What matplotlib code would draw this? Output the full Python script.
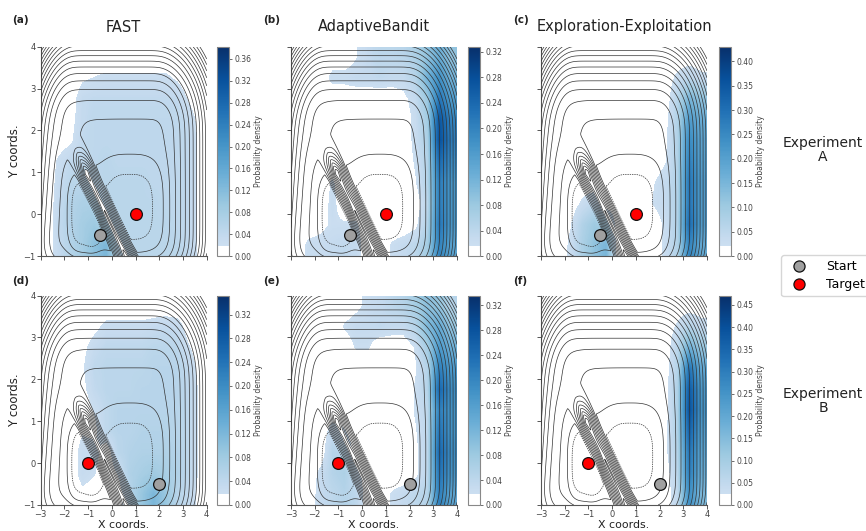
import numpy as np
import matplotlib
matplotlib.use("Agg")
import matplotlib.pyplot as plt
from matplotlib.colors import ListedColormap
from matplotlib.lines import Line2D

# ---------------- data ----------------
methods = ["FAST", "AdaptiveBandit", "Exploration-Exploitation"]
experiment_labels = ["Experiment\nA", "Experiment\nB"]
panel_tags = [["(a)", "(b)", "(c)"], ["(d)", "(e)", "(f)"]]
start_xy = [(-0.5, -0.5), (2.0, -0.5)]
target_xy = [(1.0, 0.0), (-1.0, 0.0)]
cbar_max = [[0.382, 0.328, 0.430], [0.352, 0.336, 0.471]]
cbar_step = [[0.04, 0.04, 0.05], [0.04, 0.04, 0.05]]
x_ticks = [-3, -2, -1, 0, 1, 2, 3, 4]
y_ticks = [-1, 0, 1, 2, 3, 4]

# density grid cell centres (rows listed from top y=3.75 to bottom y=-0.75)
density_x = [-2.75, -2.25, -1.75, -1.25, -0.75, -0.25, 0.25, 0.75, 1.25, 1.75, 2.25, 2.75, 3.25, 3.75]
density_y = [3.75, 3.25, 2.75, 2.25, 1.75, 1.25, 0.75, 0.25, -0.25, -0.75]

# probability density (x 0.01)
density_fast_A = [
    [0, 0, 0, 0, 0, 0, 0, 0, 0, 0, 0, 0, 0, 0],
    [0, 0, 0, 1.5, 2, 2.5, 2.5, 2.5, 2.5, 2.5, 2.5, 1.5, 0, 0],
    [0, 0, 0.5, 3.5, 4, 4, 4, 4, 4, 4, 4, 4, 1.5, 0],
    [0, 0.5, 1, 3.5, 4.5, 4.5, 4.5, 4.5, 4.5, 4.5, 4.5, 4.5, 3.5, 0.5],
    [0, 0.5, 1.5, 4, 4.5, 4.5, 4.5, 4.5, 4.5, 4.5, 4.5, 4.5, 4, 1],
    [0, 2.5, 4, 4.5, 4.5, 5, 4.5, 4.5, 4.5, 4.5, 4.5, 4.5, 4, 1],
    [0, 3, 5, 5, 5, 5, 5, 5, 5, 4.5, 4.5, 4.5, 4, 1],
    [0, 3.5, 6, 7, 7, 5, 5, 5, 5, 5, 4.5, 4.5, 4, 1],
    [0, 4, 6, 8, 9, 7, 5, 5, 5, 5, 5, 4.5, 4, 1],
    [0, 3.5, 6, 8, 11, 13, 5, 5, 5, 5, 5, 5, 4, 1],
]
density_bandit_A = [
    [0, 0, 0, 0, 0, 1.5, 3, 4, 4, 4.5, 6, 9, 13, 9],
    [0, 0, 0, 2.5, 2.5, 3, 3, 3.5, 3, 3, 5, 12, 18, 12],
    [0, 0, 0, 0, 0, 0, 0, 0, 0, 1, 3, 8, 22, 16],
    [0, 0, 0, 0, 0, 0, 0, 0, 0, 0, 2.5, 7, 27, 20],
    [0, 0, 0, 0, 0, 0, 0, 0, 0, 0, 2.5, 6, 28, 21],
    [0, 0, 0, 0, 0, 0, 0, 0, 0, 0, 2, 5, 24, 19],
    [0, 0, 0, 2, 0, 0, 0, 0, 0, 0, 1.5, 5, 21, 17],
    [0, 0, 0, 2.5, 0, 0, 0, 0, 0, 0, 0, 4, 21, 17],
    [0, 0, 1, 2, 2, 2, 0, 0, 0, 0, 1, 5, 22, 17],
    [0, 2.5, 2.5, 3, 3.5, 3, 0, 0, 2, 3, 4, 7, 20, 15],
]
density_explo_A = [
    [0, 0, 0, 0, 0, 0, 0, 0, 0, 0, 0, 0, 0, 0],
    [0, 0, 0, 0, 0, 0, 0, 0, 0, 0, 0, 3, 5, 3],
    [0, 0, 0, 0, 0, 0, 0, 0, 0, 0, 0, 6, 15, 12],
    [0, 0, 0, 0, 0, 0, 0, 0, 0, 0, 1, 7, 21, 17],
    [0, 0, 0, 0, 0, 0, 0, 0, 0, 0, 1.5, 7, 25, 19],
    [0, 0, 0, 0, 0, 0, 0, 0, 0, 0, 2, 7, 27, 20],
    [0, 0, 0, 0, 0, 0, 0, 0, 0, 2, 4, 7, 29, 21],
    [0, 0, 0, 3, 5, 0, 0, 0, 0, 2.5, 4, 7, 29, 21],
    [0, 0, 2, 7, 10, 9, 0, 0, 0, 0, 3, 7, 31, 21],
    [0, 0, 3, 8, 12, 15, 0, 0, 0, 0, 3, 7, 26, 18],
]
density_fast_B = [
    [0, 0, 0, 0, 0, 0, 0, 0, 0, 0, 0, 0, 0, 0],
    [0, 0, 0, 0, 1, 2.5, 2.5, 2.5, 2.5, 3, 3.5, 3, 0.5, 0],
    [0, 0, 0, 1, 3, 4, 4, 4, 4, 4.5, 4.5, 4.5, 2, 0],
    [0, 0, 0, 1.5, 4, 4.5, 4.5, 4.5, 4.5, 5, 5, 5, 3.5, 0.5],
    [0, 0, 0, 1, 3.5, 4.5, 4.5, 4.5, 5, 5, 5, 5, 4, 1],
    [0, 0, 0, 0, 2, 4, 5, 5, 5, 5, 5, 5, 4, 1],
    [0, 0, 0, 1.5, 1, 4, 5, 5, 5.5, 5.5, 5.5, 5, 4, 1],
    [0, 0, 0, 3, 3, 0, 4.5, 5.5, 6, 6, 6, 5.5, 4, 1],
    [0, 0, 0, 3, 2, 0, 2, 6, 7, 8, 7, 6, 4, 1],
    [0, 0, 0, 1, 0.5, 0, 0, 5, 9, 12, 9, 5, 3.5, 0.5],
]
density_bandit_B = [
    [0, 0, 0, 0, 0, 1, 2.5, 3, 4, 5, 7, 10, 9, 5],
    [0, 0, 0, 0, 2, 3, 3, 3.5, 3, 3, 5, 11, 14, 9],
    [0, 0, 0, 0, 0, 2, 2, 0, 0, 0, 2, 7, 17, 13],
    [0, 0, 0, 0, 0, 0, 0, 0, 0, 0, 1.5, 5, 21, 17],
    [0, 0, 0, 0, 0, 0, 0, 0, 0, 0, 2, 5, 25, 19],
    [0, 0, 0, 0, 0, 0, 0, 0, 0, 0, 2, 4, 21, 18],
    [0, 0, 0, 3, 2, 0, 0, 0, 0, 0, 1.5, 4, 23, 18],
    [0, 0, 0, 5, 5, 0, 0, 0, 0, 0, 1, 4, 25, 19],
    [0, 0, 2.5, 5, 6, 3, 0, 0, 0, 0, 1, 4, 23, 18],
    [0, 0, 3, 4, 5, 4, 0, 0, 2, 3, 4, 5, 21, 15],
]
density_explo_B = [
    [0, 0, 0, 0, 0, 0, 0, 0, 0, 0, 0, 0, 0, 0],
    [0, 0, 0, 0, 0, 0, 0, 0, 0, 0, 0, 3, 7, 4],
    [0, 0, 0, 0, 0, 0, 0, 0, 0, 0, 0, 6, 18, 12],
    [0, 0, 0, 0, 0, 0, 0, 0, 0, 0, 0.5, 7, 32, 20],
    [0, 0, 0, 0, 0, 0, 0, 0, 0, 0, 1, 8, 38, 24],
    [0, 0, 0, 0, 0, 0, 0, 0, 0, 0, 1, 8, 40, 25],
    [0, 0, 0, 0, 0, 0, 0, 0, 0, 0, 1.5, 8, 36, 23],
    [0, 0, 0, 0, 0, 0, 0, 0, 0, 0, 1.5, 7, 32, 21],
    [0, 0, 0, 0, 0, 0, 0, 0, 0, 0, 0.5, 6, 30, 19],
    [0, 0, 0, 0, 0, 0, 0, 0, 0, 0, 0, 5, 26, 16],
]
densities = [[density_fast_A, density_bandit_A, density_explo_A],
             [density_fast_B, density_bandit_B, density_explo_B]]


# ---------------- toy potential surface (drawn as contours) ----------------
def softplus(t, s=0.18):
    return s * np.logaddexp(0.0, t / s)


def squircle_well(x, y, cx, cy, ax_, ay_, s, depth, q=3.0):
    r = ((np.abs(x - cx) / ax_) ** q + (np.abs(y - cy) / ay_) ** q) ** (1.0 / q)
    return -depth / (1.0 + np.exp((r - 1.0) / s))


def potential(x, y):
    left_edge = -1.98 + 0.12 * y
    walls = (2.06 * softplus(x - 1.84) ** 2 + 3.3 * softplus(left_edge - x) ** 2 +
             2.23 * softplus(y - 1.99) ** 2 + 4.5 * softplus(-0.6 - y) ** 2)
    right_well = squircle_well(x, y, 0.75, 0.15, 1.40, 1.16, 0.20, 2.2)
    left_well = squircle_well(x, y, -1.15, 0.0, 0.68, 0.93, 0.15, 2.2)
    bump = 0.6 * np.exp(-((x + 2.0) ** 2 + (y - 2.0) ** 2) / (2 * 0.45 ** 2))
    u = 0.766 * (x + 0.24) + 0.643 * y
    v = -0.643 * x + 0.766 * y
    tent = np.clip(1 - np.sqrt(u ** 2 + 0.03 ** 2) / 0.42, 0, None)
    fade = np.clip((2.35 - v) / 0.9, 0, 1) ** 1.3
    ridge = 10.0 * tent * fade
    return 0.81 + walls + right_well + left_well + bump + ridge, ridge


gx = np.linspace(-3, 4, 701)
gy = np.linspace(-1, 4, 501)
GX, GY = np.meshgrid(gx, gy)
V, R = potential(GX, GY)
levels = np.arange(-1, 18, 1.0)
styles = [(0, (2.0, 1.3)) if l < 0 else "solid" for l in levels]

# colormap: Blues with white for the lowest 5 %
base = plt.cm.Blues(np.linspace(0.18, 1.0, 256))
base[:13] = [1, 1, 1, 1]
cmap = ListedColormap(base)

# ---------------- layout ----------------
W, H = 866, 531
fig = plt.figure(figsize=(W / 100, H / 100), dpi=100)
col_left = [40.7, 291.0, 541.0]
cbar_left = [217.0, 468.0, 719.0]
row_top = [46.7, 295.5]
ax_w, ax_h, cb_w = 166.0, 209.5, 12.0

tick_col = "#444444"
for r in range(2):
    for c in range(3):
        ax = fig.add_axes([col_left[c] / W, 1 - (row_top[r] + ax_h) / H, ax_w / W, ax_h / H])
        cax = fig.add_axes([cbar_left[c] / W, 1 - (row_top[r] + ax_h) / H, cb_w / W, ax_h / H])
        dens = np.array(densities[r][c]) / 100.0
        ext = (density_x[0] - 0.25, density_x[-1] + 0.25, density_y[-1] - 0.25, density_y[0] + 0.25)
        im = ax.imshow(dens, extent=ext, origin="upper", cmap=cmap, vmin=0, vmax=cbar_max[r][c],
                       interpolation="bilinear", interpolation_stage="data", aspect="auto", zorder=1)
        ax.contourf(GX, GY, R, levels=[8.6, 100], colors="white", zorder=2)
        ax.contour(GX, GY, V, levels=levels, colors="#333333", linewidths=0.5,
                   linestyles=styles, zorder=3)
        ax.scatter([start_xy[r][0]], [start_xy[r][1]], s=72, c="#a0a0a0", edgecolors="#111111",
                   linewidths=0.9, zorder=5)
        ax.scatter([target_xy[r][0]], [target_xy[r][1]], s=72, c="#ff0000", edgecolors="#111111",
                   linewidths=0.9, zorder=5)
        ax.set_xlim(-3, 4)
        ax.set_ylim(-1, 4)
        ax.set_xticks(x_ticks)
        ax.set_yticks(y_ticks)
        for s in ["top", "right"]:
            ax.spines[s].set_visible(False)
        for s in ["left", "bottom"]:
            ax.spines[s].set_color("#555555")
            ax.spines[s].set_linewidth(0.8)
        ax.tick_params(labelsize=6, length=2.8, width=0.7, color="#555555",
                       labelcolor=tick_col, pad=0.8)
        if c == 0:
            ax.set_ylabel("Y coords.", fontsize=8.5, color="#222222")
            ax.yaxis.set_label_coords(-0.12, 0.5)
        else:
            ax.set_yticklabels([])
        if r == 1:
            ax.set_xlabel("X coords.", fontsize=7.9, color="#222222", va="bottom")
            ax.xaxis.set_label_coords(0.5, -(531 - 1 - (row_top[1] + ax_h)) / ax_h)
        else:
            ax.set_xticklabels([])

        cb = fig.colorbar(im, cax=cax)
        ticks = np.arange(0, cbar_max[r][c] + 1e-9, cbar_step[r][c])
        cb.set_ticks(ticks)
        cb.set_ticklabels([f"{t:.2f}" for t in ticks])
        cb.ax.tick_params(labelsize=5.5, length=2.5, width=0.6, color="#555555",
                          labelcolor=tick_col, pad=1.5)
        cb.outline.set_edgecolor("#888888")
        cb.outline.set_linewidth(0.8)
        cb.set_label("Probability density", fontsize=5.5, color="#444444", labelpad=2)

        fig.text((12 if c == 0 else (263 if c == 1 else 513)) / W,
                 1 - (20 if r == 0 else 281) / H, panel_tags[r][c],
                 fontsize=7.5, fontweight="bold", color="#222222", va="center", ha="left")
        if r == 0:
            fig.text((col_left[c] + ax_w / 2) / W, 1 - 27 / H, methods[c],
                     fontsize=10.5, color="#222222", ha="center", va="center")

fig.text(823 / W, 1 - 150 / H, experiment_labels[0], fontsize=10, color="#222222",
         ha="center", va="center", linespacing=1.0)
fig.text(823 / W, 1 - 401 / H, experiment_labels[1], fontsize=10, color="#222222",
         ha="center", va="center", linespacing=1.0)

handles = [Line2D([], [], marker="o", ls="", mfc="#a0a0a0", mec="#111111", ms=8, mew=0.9),
           Line2D([], [], marker="o", ls="", mfc="#ff0000", mec="#111111", ms=8, mew=0.9)]
fig.legend(handles, ["Start", "Target"], loc="upper left", bbox_to_anchor=(781 / W, 1 - 255 / H),
           fontsize=9, frameon=True, borderaxespad=0, handletextpad=1.2, labelspacing=0.4,
           edgecolor="#cccccc", fancybox=True)

fig.savefig("out.png", dpi=100)
